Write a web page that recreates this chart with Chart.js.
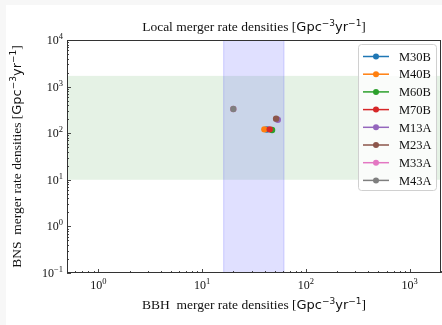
<!DOCTYPE html>
<html>
<head>
<meta charset="utf-8">
<script src="https://cdn.jsdelivr.net/npm/chart.js@4.4.1/dist/chart.umd.min.js"></script>
<style>
  html, body { margin: 0; padding: 0; background: #f7f7f7; width: 442px; height: 325px; overflow: hidden; }
  #wrap { position: absolute; left: 6px; top: 5px; width: 436px; height: 320px; background: #ffffff; }
  canvas { display: block; }
</style>
</head>
<body>
<div id="wrap"><canvas id="chart" width="436" height="320"></canvas></div>
<script>
// Model names and their local merger rate densities [Gpc^-3 yr^-1]
const models = ['M30B', 'M40B', 'M60B', 'M70B', 'M13A', 'M23A', 'M33A', 'M43A'];
const bbhRates = [42, 39.8, 47.2, 44.8, 53.6, 51.6, 20, 20];
const bnsRates = [120, 121, 117, 121, 195, 205, 330, 330];
const colors = ['#1f77b4', '#ff7f0e', '#2ca02c', '#d62728', '#9467bd', '#8c564b', '#e377c2', '#7f7f7f'];

// Observationally allowed ranges (shaded bands)
const bbhRange = [16, 62];
const bnsRange = [10, 1700];

// Axis limits and decade tick exponents
const xLimits = [0.5, 2000];
const yLimits = [0.1, 10000];
const xTickExps = [0, 1, 2, 3];
const yTickExps = [-1, 0, 1, 2, 3, 4];

const SERIF = "'Liberation Serif', 'DejaVu Serif', serif";
const SANS = "'DejaVu Sans', sans-serif";

// Draw a run of text pieces with mixed fonts / superscripts, centred on (cx, cy)
function drawRich(ctx, parts, cx, cy, rot) {
  ctx.save();
  ctx.translate(cx, cy);
  if (rot) ctx.rotate(rot);
  ctx.textBaseline = 'alphabetic';
  ctx.textAlign = 'left';
  let total = 0;
  parts.forEach(p => { ctx.font = p.font; p.w = ctx.measureText(p.text).width; total += p.w; });
  let x = -total / 2;
  parts.forEach(p => {
    ctx.font = p.font;
    ctx.fillStyle = '#111';
    ctx.fillText(p.text, x, 4 + (p.dy || 0));
    x += p.w;
  });
  ctx.restore();
}

function unitParts(prefix) {
  return [
    { text: prefix + ' [', font: '13.5px ' + SERIF },
    { text: 'Gpc', font: '13px ' + SANS },
    { text: '\u22123', font: '9px ' + SANS, dy: -5.5 },
    { text: 'yr', font: '13px ' + SANS },
    { text: '\u22121', font: '9px ' + SANS, dy: -5.5 },
    { text: ']', font: '13.5px ' + SERIF }
  ];
}

// Power-of-ten label "10^e"; align = 'center' or 'right'
function drawPow(ctx, e, x, baseline, align) {
  const base = '10';
  const sup = e < 0 ? '\u2212' + (-e) : String(e);
  ctx.font = '12px ' + SERIF;
  const wb = ctx.measureText(base).width;
  ctx.font = '8.5px ' + SERIF;
  const ws = ctx.measureText(sup).width;
  const total = wb + ws;
  let x0 = align === 'right' ? x - total : x - total / 2;
  ctx.fillStyle = '#111';
  ctx.textAlign = 'left';
  ctx.textBaseline = 'alphabetic';
  ctx.font = '12px ' + SERIF;
  ctx.fillText(base, x0, baseline);
  ctx.font = '8.5px ' + SERIF;
  ctx.fillText(sup, x0 + wb, baseline - 5);
}

function logTicks(min, max) {
  const out = [];
  for (let d = Math.floor(Math.log10(min)); d <= Math.ceil(Math.log10(max)); d++) {
    for (let m = 1; m <= 9; m++) {
      const v = m * Math.pow(10, d);
      if (v >= min * 0.9999 && v <= max * 1.0001) out.push({ v, major: m === 1 });
    }
  }
  return out;
}

const decorations = {
  id: 'decorations',
  beforeDatasetsDraw(chart) {
    const { ctx, chartArea: a, scales: { x, y } } = chart;
    ctx.save();
    // BNS band (horizontal)
    const yTop = y.getPixelForValue(bnsRange[1]);
    const yBot = y.getPixelForValue(bnsRange[0]);
    ctx.fillStyle = 'rgba(0,128,0,0.10)';
    ctx.fillRect(a.left, yTop, a.right - a.left, yBot - yTop);
    // BBH band (vertical)
    const xL = x.getPixelForValue(bbhRange[0]);
    const xR = x.getPixelForValue(bbhRange[1]);
    ctx.fillStyle = 'rgba(0,0,255,0.12)';
    ctx.fillRect(xL, a.top, xR - xL, a.bottom - a.top);
    ctx.strokeStyle = 'rgba(0,0,255,0.12)';
    ctx.lineWidth = 1;
    ctx.beginPath();
    ctx.moveTo(xL + 0.5, a.top); ctx.lineTo(xL + 0.5, a.bottom);
    ctx.moveTo(xR - 0.5, a.top); ctx.lineTo(xR - 0.5, a.bottom);
    ctx.stroke();
    ctx.restore();
  },
  afterDatasetsDraw(chart) {
    const { ctx, chartArea: a, scales: { x, y } } = chart;
    ctx.save();
    // frame
    ctx.strokeStyle = '#333';
    ctx.lineWidth = 1;
    ctx.strokeRect(a.left + 0.5, a.top + 0.5, a.right - a.left - 1, a.bottom - a.top - 1);

    // inward ticks on bottom and left axes
    ctx.strokeStyle = '#333';
    ctx.lineWidth = 0.9;
    ctx.beginPath();
    logTicks(xLimits[0], xLimits[1]).forEach(t => {
      const px = Math.round(x.getPixelForValue(t.v)) + 0.5;
      const len = t.major ? 4 : 2;
      ctx.moveTo(px, a.bottom); ctx.lineTo(px, a.bottom - len);
    });
    logTicks(yLimits[0], yLimits[1]).forEach(t => {
      const py = Math.round(y.getPixelForValue(t.v)) + 0.5;
      const len = t.major ? 4 : 2;
      ctx.moveTo(a.left, py); ctx.lineTo(a.left + len, py);
    });
    ctx.stroke();

    // tick labels
    xTickExps.forEach(e => {
      drawPow(ctx, e, x.getPixelForValue(Math.pow(10, e)), a.bottom + 16, 'center');
    });
    yTickExps.forEach(e => {
      drawPow(ctx, e, a.left - 4, y.getPixelForValue(Math.pow(10, e)) + 4, 'right');
    });

    // titles
    const cx = (a.left + a.right) / 2;
    drawRich(ctx, unitParts('Local merger rate densities'), cx, a.top - 13);
    drawRich(ctx, unitParts('BBH  merger rate densities'), cx, a.bottom + 32);
    drawRich(ctx, unitParts('BNS  merger rate densities'), 11, (a.top + a.bottom) / 2, -Math.PI / 2);

    // legend
    const bx = a.right - 83, by = a.top + 4, bw = 78, bh = 146;
    ctx.beginPath();
    ctx.roundRect(bx + 0.5, by + 0.5, bw, bh, 3);
    ctx.fillStyle = 'rgba(255,255,255,0.8)';
    ctx.fill();
    ctx.strokeStyle = '#d0d0d0';
    ctx.lineWidth = 1;
    ctx.stroke();
    chart.data.datasets.forEach((ds, i) => {
      const ry = by + 12.5 + i * 17.7;
      ctx.strokeStyle = ds.borderColor;
      ctx.lineWidth = 1.5;
      ctx.beginPath();
      ctx.moveTo(bx + 5, ry); ctx.lineTo(bx + 31, ry);
      ctx.stroke();
      ctx.fillStyle = ds.backgroundColor;
      ctx.beginPath();
      ctx.arc(bx + 18, ry, 3, 0, Math.PI * 2);
      ctx.fill();
      ctx.fillStyle = '#111';
      ctx.font = '12.5px ' + SERIF;
      ctx.textAlign = 'left';
      ctx.textBaseline = 'middle';
      ctx.fillText(ds.label, bx + 41, ry + 1);
    });
    ctx.restore();
  }
};

// later models are drawn on top of earlier ones
const datasets = models.map((m, i) => ({
  label: m,
  data: [{ x: bbhRates[i], y: bnsRates[i] }],
  backgroundColor: colors[i],
  borderColor: colors[i],
  pointRadius: 3.2,
  pointBorderWidth: 0,
  showLine: false,
  order: models.length - i
}));

new Chart(document.getElementById('chart'), {
  type: 'scatter',
  data: { datasets },
  plugins: [decorations],
  options: {
    responsive: false,
    devicePixelRatio: 1,
    animation: false,
    layout: { autoPadding: false, padding: { left: 61, top: 35, right: 1, bottom: 52 } },
    plugins: { legend: { display: false }, tooltip: { enabled: false }, title: { display: false } },
    scales: {
      x: { type: 'logarithmic', min: xLimits[0], max: xLimits[1], display: false },
      y: { type: 'logarithmic', min: yLimits[0], max: yLimits[1], display: false }
    }
  }
});
</script>
</body>
</html>
